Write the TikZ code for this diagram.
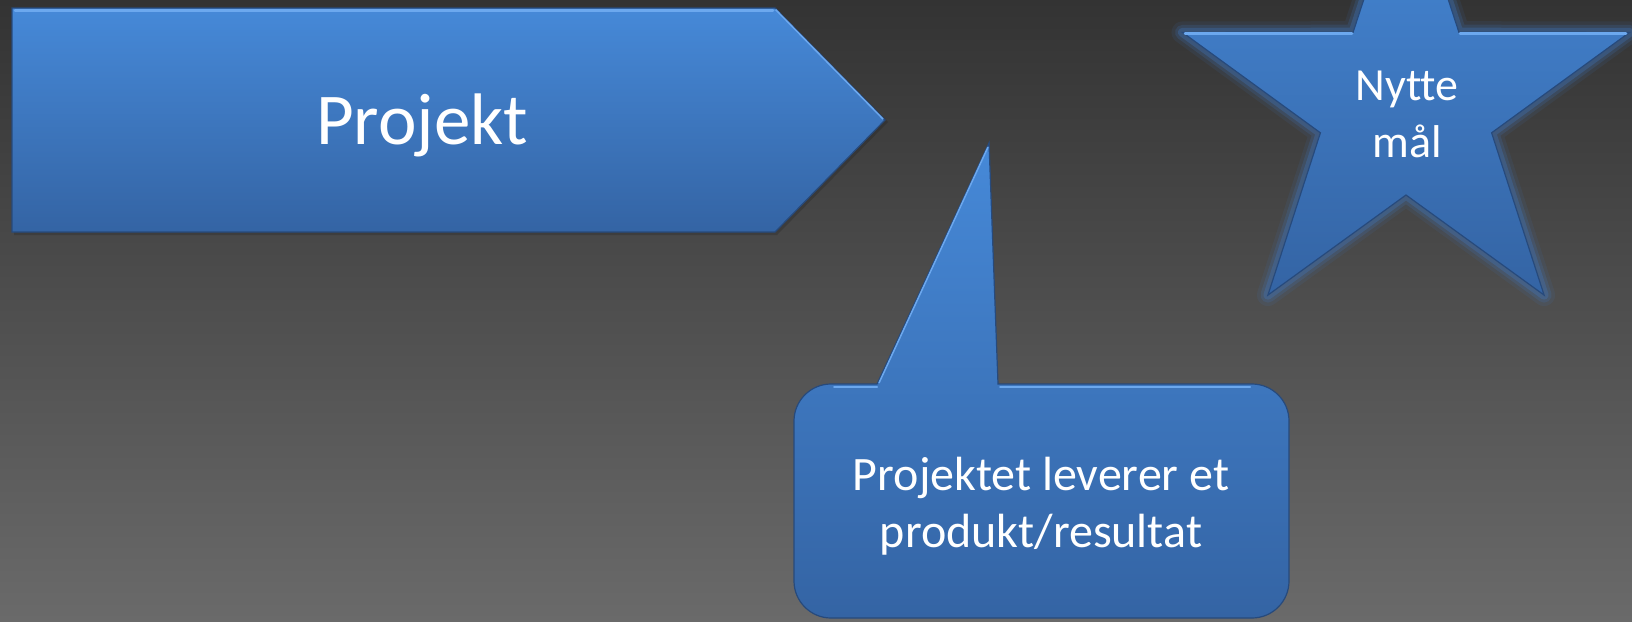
\documentclass[tikz,border=0pt]{standalone}
\usepackage{fontspec}
\setmainfont[Ligatures=NoCommon]{Carlito}
\definecolor{bgtop}{HTML}{333333}
\definecolor{bgbot}{HTML}{6A6A6A}
\definecolor{bluetop}{HTML}{4689D8}
\definecolor{bluebot}{HTML}{3464A4}
\definecolor{blueedge}{HTML}{274A7C}
\definecolor{bluelight}{HTML}{6CA8EE}
\definecolor{glowblue}{HTML}{3F78C4}
\tikzset{
  shapefill/.style={top color=bluetop, bottom color=bluebot},
  edgeline/.style={draw=blueedge, line width=1.2pt, line join=miter},
  hilite/.style={draw=bluelight, line width=2.5pt, line cap=round},
  glowline/.style={draw=glowblue, line join=round},
  labeltext/.style={text=white, align=center, anchor=base},
}
\begin{document}
\begin{tikzpicture}[x=1pt,y=-1pt]
\useasboundingbox (0,0) rectangle (1632,621);
\clip (0,0) rectangle (1632,621);
\fill[top color=bgtop, bottom color=bgbot] (0,0) rectangle (1632,621);

% Pentagon arrow "Projekt"
\fill[black, opacity=0.15] (14,11) -- (777,11) -- (888,122) -- (777,235) -- (14,235) -- cycle;
\path[shapefill, edgeline] (12,8) -- (775,8) -- (885,120) -- (775,232) -- (12,232) -- cycle;
\draw[hilite] (15,10.5) -- (773,10.5);
\draw[draw=bluelight, line width=1.5pt] (775.5,9.5) -- (883,119);
\node[labeltext, font=\fontsize{73}{88}\selectfont] (proj) at (422,144) {Projekt};

% Star "Nytte mål" with glow
\def\starpath{(1406,-130) -- (1353.1,32.2) -- (1182.5,32.4) -- (1320.4,132.8) -- (1267.9,295.1) -- (1406,195) -- (1544.1,295.1) -- (1491.6,132.8) -- (1629.5,32.4) -- (1458.9,32.2) -- cycle}
\draw[glowline, line width=22pt, opacity=0.10] \starpath;
\draw[glowline, line width=15pt, opacity=0.18] \starpath;
\draw[glowline, line width=9pt, opacity=0.30] \starpath;
\path[shapefill, edgeline] \starpath;
\draw[hilite] (1185,33.5) -- (1352,33.5);
\draw[hilite] (1460,33.5) -- (1626,33.5);
\node[labeltext, font=\fontsize{46}{56}\selectfont] (goal) at (1407,100) {Nytte};
\node[labeltext, font=\fontsize{46}{56}\selectfont] (goal2) at (1407,157) {mål};

% Callout "Projektet leverer et produkt/resultat"
\path[shapefill, edgeline] (998,384) -- (1252,384)
  .. controls (1272.4,384) and (1289,400.6) .. (1289,421) -- (1289,581)
  .. controls (1289,601.4) and (1272.4,618) .. (1252,618) -- (831,618)
  .. controls (810.6,618) and (794,601.4) .. (794,581) -- (794,421)
  .. controls (794,400.6) and (810.6,384) .. (831,384) -- (877,384)
  -- (989,143) -- cycle;
\draw[hilite, line width=2pt] (834,386.5) -- (877,386.5);
\draw[hilite, line width=2pt] (1000,386.5) -- (1250,386.5);
\draw[draw=bluelight, line width=1.5pt] (879,383) -- (988,147);
\node[labeltext, font=\fontsize{48}{57}\selectfont] (deliver) at (1041,490) {Projektet leverer et};
\node[labeltext, font=\fontsize{48}{57}\selectfont] (deliver2) at (1041,547) {produkt/resultat};
\end{tikzpicture}
\end{document}
